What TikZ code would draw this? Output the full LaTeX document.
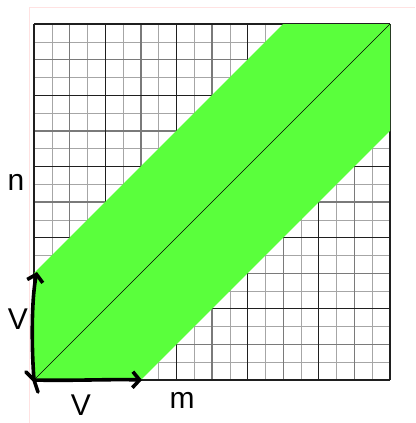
\documentclass[tikz,border=0pt]{standalone}
\usepackage{fontspec}
\setmainfont{Liberation Sans}
\usetikzlibrary{arrows.meta}
\definecolor{bandgreen}{RGB}{90,255,60}
\definecolor{framepink}{RGB}{255,226,226}
\begin{document}
\begin{tikzpicture}[x=1pt,y=-1pt,
  thingrid/.style={line width=0.6pt, draw=black!35},
  midgrid/.style={line width=1.4pt, draw=black!52},
  majgrid/.style={line width=1.2pt, draw=black!88},
  hand/.style={line width=3.6pt, line cap=round, line join=round},
  barb/.style={-{Straight Barb[length=7pt,width=16pt,line width=3.6pt]}},
  lab/.style={font=\fontsize{30}{36}\selectfont, anchor=base, inner sep=0pt}]
\useasboundingbox (0,0) rectangle (415,423);
\fill[white] (0,0) rectangle (415,423);
\draw[framepink, line width=0.8pt] (29,423) -- (29,7) -- (415,7);
\foreach \px/\py in {51.8/362.2, 87.4/326.6, 123/291, 158.6/255.4, 194.2/219.8,
    229.8/184.2, 265.4/148.6, 301/113, 336.6/77.4, 372.2/41.8} {
  \draw[thingrid] (\px,24) -- (\px,380);
  \draw[thingrid] (34,\py) -- (390,\py);
}
\foreach \px/\py in {69.6/344.4, 140.8/273.2, 212/202, 283.2/130.8, 354.4/59.6} {
  \draw[midgrid] (\px,24) -- (\px,380);
  \draw[midgrid] (34,\py) -- (390,\py);
}
\foreach \px/\py in {34/380, 105.2/308.8, 176.4/237.6, 247.6/166.4, 318.8/95.2, 390/24} {
  \draw[majgrid] (\px,24) -- (\px,380);
  \draw[majgrid] (34,\py) -- (390,\py);
}
% green band
\fill[bandgreen] (34,380) -- (140.8,380) -- (390,130.8) -- (390,24)
  -- (283.2,24) -- (34,273.2) -- cycle;
% diagonal
\coordinate (O) at (34,380);
\coordinate (TR) at (390,24);
\draw[line width=0.6pt, black] (O) -- (TR);
% hand-drawn arrows
\coordinate (Hend) at (142,380);
\coordinate (Vend) at (37,272);
\coordinate (K1) at (26,372);
\coordinate (K2) at (38,392);
\draw[hand, barb] (O) .. controls (70,381) and (110,379) .. (Hend);
\draw[hand, barb] (O) .. controls (31,340) and (32,295) .. (Vend);
\draw[hand] (K1) -- (O) -- (K2);
% labels
\node[lab] (n) at (16,190) {n};
\node[lab] (vl) at (18,329) {V};
\node[lab] (vb) at (81,415) {V};
\node[lab] (m) at (182,408) {m};
\end{tikzpicture}
\end{document}
